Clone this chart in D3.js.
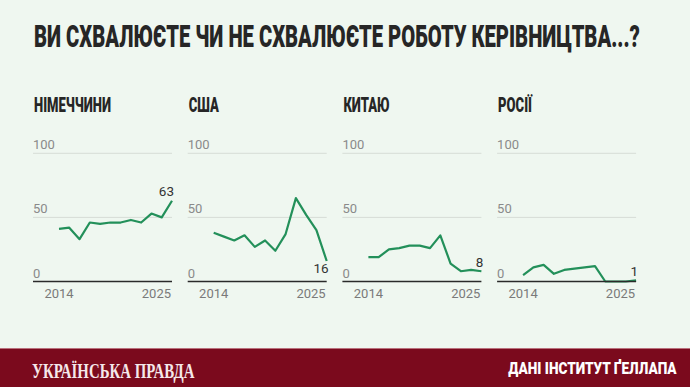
<!DOCTYPE html>
<html><head><meta charset="utf-8">
<script src="https://cdn.jsdelivr.net/npm/d3@7"></script>
<style>
html,body{margin:0;padding:0;background:#eff7f0;}
svg{display:block;}
</style></head>
<body>
<svg id="chart" width="690" height="387"></svg>
<script>
// ---- data ----
const years = [2014,2015,2016,2017,2018,2019,2020,2021,2022,2023,2024,2025];
const countries = ["НІМЕЧЧИНИ","США","КИТАЮ","РОСІЇ"];
const germany = [41,42,33,46,45,46,46,48,46,53,50,63];
const usa     = [38,35,32,36,27,32,24,37,65,52,40,16];
const china   = [19,19,25,26,28,28,26,36,14,8,9,8];
const russia  = [5,11,13,6,9,10,11,12,0,0,0,1];
const seriesValues = [germany, usa, china, russia];
const yTicks = [0,50,100];
const yearLabels = ["2014","2025"];
const title = "ВИ СХВАЛЮЄТЕ ЧИ НЕ СХВАЛЮЄТЕ РОБОТУ КЕРІВНИЦТВА...?";
const brand = "УКРАЇНСЬКА ПРАВДА";
const source = "ДАНІ ІНСТИТУТ ҐЕЛЛАПА";

// ---- layout ----
const W = 690, H = 387;
const svg = d3.select("#chart");
svg.append("rect").attr("width",W).attr("height",H).attr("fill","#eff7f0");

const green = "#23905a";
const condFont = "Roboto, 'DejaVu Sans', sans-serif";

// helper: horizontally condensed text (scaled to a target width or factor)
function condensed(parent, x, y, txt, opts){
  const g = parent.append("g");
  const t = g.append("text").attr("x",0).attr("y",0)
    .attr("font-family",opts.family).attr("font-weight",opts.weight)
    .attr("font-size",opts.size).attr("fill",opts.fill).text(txt);
  const nat = t.node().getComputedTextLength();
  const f = opts.width ? opts.width/nat : opts.factor;
  const left = opts.anchor === "end" ? x - nat*f : x;
  g.attr("transform",`translate(${left},${y}) scale(${f},1)`);
  return f;
}

// title
const condFactor = condensed(svg, 34, 47, title,
  {family:condFont, weight:900, size:31, fill:"#262626", width:606});

const panelX0 = 33, panelStep = 154.7, panelW = 139;
const y = d3.scaleLinear().domain([0,100]).range([281.5,153.3]);

countries.forEach((name,i)=>{
  const x0 = panelX0 + i*panelStep;
  const x = d3.scaleLinear().domain([2014,2025]).range([x0 + 26, x0 + panelW]);
  const g = svg.append("g");

  // panel title
  condensed(g, x0+1, 111.7, name,
    {family:condFont, weight:900, size:20, fill:"#262626", factor:condFactor});

  // gridlines + tick labels
  yTicks.forEach(v=>{
    if (v>0) g.append("line").attr("x1",x0).attr("x2",x0+panelW)
      .attr("y1",y(v)).attr("y2",y(v)).attr("stroke","#d6dcd6").attr("stroke-width",1);
    g.append("text").attr("x",x0).attr("y",y(v)-4)
      .attr("font-family","Roboto, sans-serif").attr("font-size",13)
      .attr("fill","#8a8a8a").text(v);
  });

  // line
  const vals = seriesValues[i];
  const line = d3.line().x((d,j)=>x(years[j])).y(d=>y(d));
  g.append("path").datum(vals).attr("d",line).attr("fill","none")
    .attr("stroke",green).attr("stroke-width",2.2).attr("stroke-linejoin","round");

  // axis baseline
  g.append("line").attr("x1",x0).attr("x2",x0+panelW)
    .attr("y1",y(0)).attr("y2",y(0)).attr("stroke","#2a2a2a").attr("stroke-width",1.3);

  // year labels
  g.append("text").attr("x",x(+yearLabels[0])).attr("y",298.3).attr("text-anchor","middle")
    .attr("font-family","Roboto, sans-serif").attr("font-size",13).attr("fill","#7a7a7a")
    .text(yearLabels[0]);
  g.append("text").attr("x",x0+panelW-1).attr("y",298.3).attr("text-anchor","end")
    .attr("font-family","Roboto, sans-serif").attr("font-size",13).attr("fill","#7a7a7a")
    .text(yearLabels[1]);

  // end label
  const last = vals[vals.length-1], prev = vals[vals.length-2];
  const below = last < prev - 10;
  g.append("text").attr("x",x(2025)+2).attr("y", below ? y(last)+12 : y(last)-4.5)
    .attr("text-anchor","end").attr("font-family","Roboto, sans-serif")
    .attr("font-size",13.5).attr("fill","#333").text(last);
});

// footer
svg.append("rect").attr("x",0).attr("y",348).attr("width",W).attr("height",H-348).attr("fill","#7b0a1d");
svg.append("line").attr("x1",0).attr("x2",W).attr("y1",348.5).attr("y2",348.5).attr("stroke","#b9707c").attr("stroke-width",1);
condensed(svg, 32, 378.3, brand,
  {family:"'Liberation Serif', 'DejaVu Serif', serif", weight:700, size:22, fill:"#f5e8ea", width:162.5});
condensed(svg, 676.7, 374.2, source,
  {family:condFont, weight:900, size:17, fill:"#ffffff", width:168.4, anchor:"end"});
</script>
</body></html>
